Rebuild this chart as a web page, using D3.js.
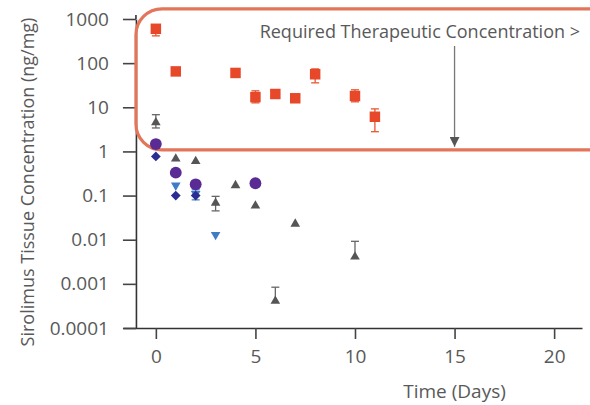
<!DOCTYPE html>
<html>
<head>
<meta charset="utf-8">
<script src="https://cdn.jsdelivr.net/npm/d3@7"></script>
<style>
  body { margin: 0; background: #fff; }
  text { font-family: "Open Sans", sans-serif; fill: #595959; }
</style>
</head>
<body>
<svg id="chart" width="590" height="405"></svg>
<script>
// sirolimus data (days, ng/mg)
const redDays = [0, 1, 4, 5, 6, 7, 8, 10, 11];
const redVals = [600, 65, 60, 17, 20, 16, 56, 18, 6.1];
const redLo = [415, null, null, 12.6, null, null, 35.8, 13.3, 2.8];
const redHi = [null, null, null, 23.6, null, null, 74, 24.9, 9.2];

const grayDays = [0, 1, 2, 3, 4, 5, 6, 7, 10];
const grayVals = [4.5, 0.68, 0.6, 0.068, 0.17, 0.059, 0.00041, 0.0228, 0.0041];
const grayLo = [3.4, null, null, 0.045, null, null, null, null, null];
const grayHi = [6.8, null, null, 0.096, null, null, 0.00084, null, 0.0092];

const purpleDays = [0, 1, 2, 5];
const purpleVals = [1.47, 0.33, 0.18, 0.19];

const blueTriDays = [1, 2, 3];
const blueTriVals = [0.17, 0.11, 0.013];
const blueTriLo = [null, 0.08, null];
const blueTriHi = [null, 0.135, null];

const diamondDays = [0, 1, 2];
const diamondVals = [0.77, 0.1, 0.1];

const xTicks = [0, 5, 10, 15, 20];
const yTicks = [1000, 100, 10, 1, 0.1, 0.01, 0.001, 0.0001];
const yTickLabels = ["1000", "100", "10", "1", "0.1", "0.01", "0.001", "0.0001"];

const noteText = "Required Therapeutic Concentration >";

const svg = d3.select("#chart");

const x = d3.scaleLinear().domain([-1.65, 21.4]).range([123, 582]);
const y = d3.scaleLog().domain([0.0001, 1000]).range([328, 19]);

// axes
const xAxis = g => g
  .attr("transform", "translate(0," + y(0.0001) + ")")
  .call(d3.axisBottom(x).tickValues(xTicks).tickSize(11).tickSizeOuter(0).tickPadding(11));
const yAxis = g => g
  .attr("transform", "translate(" + x(-1) + ",0)")
  .call(d3.axisLeft(y).tickValues(yTicks).tickFormat((d, i) => yTickLabels[i]).tickSize(13).tickSizeOuter(0).tickPadding(14));

svg.append("g").call(xAxis);
svg.append("g").call(yAxis);

svg.selectAll(".domain").attr("stroke", "#333").attr("stroke-width", 1.6);
svg.selectAll(".tick line").attr("stroke", "#444").attr("stroke-width", 1.6);
svg.selectAll(".tick text").attr("font-size", 19).attr("fill", "#595959")
  .attr("font-family", "'Open Sans', sans-serif");

// extend y axis line a little above the top tick
svg.append("line")
  .attr("x1", x(-1)).attr("x2", x(-1))
  .attr("y1", y(1000) - 4).attr("y2", y(1000))
  .attr("stroke", "#333").attr("stroke-width", 1.6);

// axis titles
svg.append("text")
  .attr("x", x(15)).attr("y", 398)
  .attr("text-anchor", "middle")
  .attr("font-size", 19)
  .text("Time (Days)");

svg.append("text")
  .attr("transform", "translate(34," + 182 + ") rotate(-90)")
  .attr("text-anchor", "middle")
  .attr("font-size", 18)
  .text("Sirolimus Tissue Concentration (ng/mg)");

// therapeutic window box
const bx0 = x(-1), bx1 = x(23.5), by0 = y(1700), by1 = y(1.08);
svg.append("rect")
  .attr("x", bx0).attr("y", by0)
  .attr("width", bx1 - bx0).attr("height", by1 - by0)
  .attr("rx", 26).attr("ry", 26)
  .attr("fill", "none")
  .attr("stroke", "#e3765a")
  .attr("stroke-width", 3.2);

svg.append("text")
  .attr("x", 580).attr("y", 38)
  .attr("text-anchor", "end")
  .attr("font-size", 18)
  .text(noteText);

// arrow
svg.append("defs").append("marker")
  .attr("id", "head")
  .attr("viewBox", "0 0 10 10")
  .attr("refX", 10).attr("refY", 5)
  .attr("markerWidth", 10).attr("markerHeight", 10)
  .attr("markerUnits", "userSpaceOnUse")
  .attr("orient", "auto")
  .append("path").attr("d", "M0,0L10,5L0,10Z").attr("fill", "#555");

svg.append("line")
  .attr("x1", x(15)).attr("x2", x(15))
  .attr("y1", y(245)).attr("y2", y(1.27))
  .attr("stroke", "#777").attr("stroke-width", 1.3)
  .attr("marker-end", "url(#head)");

// error bars
function errorBars(days, lo, hi, vals, color) {
  const g = svg.append("g").attr("stroke", color).attr("stroke-width", 1.3);
  days.forEach((d, i) => {
    const top = hi[i] != null ? hi[i] : vals[i];
    const bot = lo[i] != null ? lo[i] : vals[i];
    if (hi[i] == null && lo[i] == null) return;
    g.append("line").attr("x1", x(d)).attr("x2", x(d)).attr("y1", y(top)).attr("y2", y(bot));
    if (hi[i] != null) g.append("line").attr("x1", x(d) - 4).attr("x2", x(d) + 4).attr("y1", y(top)).attr("y2", y(top));
    if (lo[i] != null) g.append("line").attr("x1", x(d) - 4).attr("x2", x(d) + 4).attr("y1", y(bot)).attr("y2", y(bot));
  });
}

function points(days, vals, type, size, color, rot) {
  const sym = d3.symbol().type(type).size(size);
  svg.append("g").selectAll("path")
    .data(days.map((d, i) => [d, vals[i]]))
    .join("path")
    .attr("d", sym)
    .attr("transform", d => "translate(" + x(d[0]) + "," + y(d[1]) + ")" + (rot ? " rotate(" + rot + ")" : ""))
    .attr("fill", color);
}

errorBars(grayDays, grayLo, grayHi, grayVals, "#666");
points(grayDays, grayVals, d3.symbolTriangle, 40, "#555");

errorBars(blueTriDays, blueTriLo, blueTriHi, blueTriVals, "#4a80c8");
points(blueTriDays, blueTriVals, d3.symbolTriangle, 40, "#3f7cc8", 180);

points(purpleDays, purpleVals, d3.symbolCircle, 110, "#5a2b94");
points(diamondDays, diamondVals, d3.symbolSquare, 48, "#2b2e90", 45);

errorBars(redDays, redLo, redHi, redVals, "#e8552f");
points(redDays, redVals, d3.symbolSquare, 110, "#e8482a");
</script>
</body>
</html>
